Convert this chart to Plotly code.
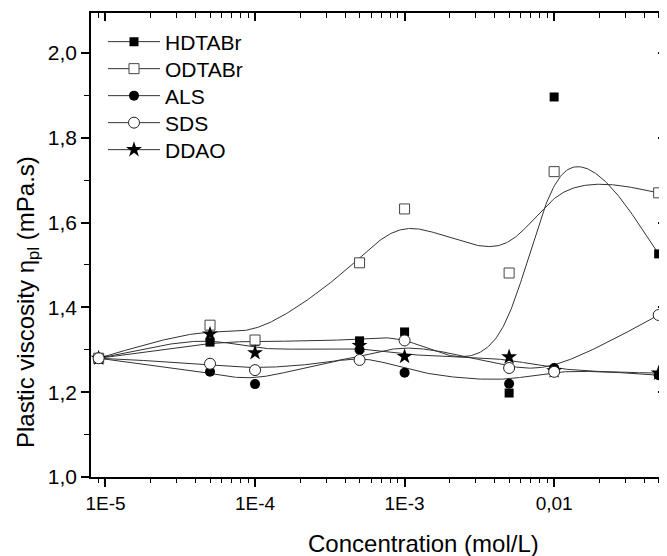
import numpy as np
import plotly.graph_objects as go

# ---- data ----
conc = [9e-6, 5e-5, 1e-4, 5e-4, 1e-3, 5e-3, 1e-2, 5e-2]
hdtabr = [1.28, 1.318, 1.32, 1.321, 1.342, 1.198, 1.896, 1.526]
odtabr = [1.28, 1.358, 1.323, 1.505, 1.632, 1.481, 1.72, 1.67]
als = [1.28, 1.248, 1.219, 1.30, 1.246, 1.22, 1.257, 1.24]
sds = [1.28, 1.267, 1.252, 1.276, 1.322, 1.257, 1.248, 1.382]
ddao = [1.28, 1.337, 1.293, 1.31, 1.284, 1.283, 1.25, 1.245]

series_names = ["HDTABr", "ODTABr", "ALS", "SDS", "DDAO"]
series_vals = [hdtabr, odtabr, als, sds, ddao]

x_tickvals = [1e-5, 1e-4, 1e-3, 1e-2]
x_ticktext = ["1E-5", "1E-4", "1E-3", "0,01"]
y_tickvals = [1.0, 1.2, 1.4, 1.6, 1.8, 2.0]
y_ticktext = ["1,0", "1,2", "1,4", "1,6", "1,8", "2,0"]
y_minor = [1.1, 1.3, 1.5, 1.7, 1.9]
x_minor = [9e-6] + [m * 10.0 ** d for d in range(-5, -1) for m in range(2, 10)]

FONT = "Liberation Sans, Arial, sans-serif"

# page geometry (the html body adds an 8px margin)
BODY = 8
PL, PR, PT, PB = 91, 666, 13, 477   # plot area in page pixels


def bspline(xs, ys, per_seg=60):
    """Uniform cubic B-spline, data points as control points (end points tripled), log-x space."""
    P = np.column_stack([np.log10(xs), ys])
    Q = np.vstack([P[0], P[0], P, P[-1], P[-1]])
    t = np.linspace(0, 1, per_seg, endpoint=False)
    b0 = (1 - t) ** 3 / 6
    b1 = (3 * t ** 3 - 6 * t ** 2 + 4) / 6
    b2 = (-3 * t ** 3 + 3 * t ** 2 + 3 * t + 1) / 6
    b3 = t ** 3 / 6
    pts = []
    for i in range(len(Q) - 3):
        seg = (np.outer(b0, Q[i]) + np.outer(b1, Q[i + 1]) +
               np.outer(b2, Q[i + 2]) + np.outer(b3, Q[i + 3]))
        pts.append(seg)
    pts.append(P[-1][None, :])
    C = np.vstack(pts)
    return 10 ** C[:, 0], C[:, 1]


markers = {
    "HDTABr": dict(symbol="square", size=9, color="black", line=dict(width=0)),
    "ODTABr": dict(symbol="square", size=10, color="white", line=dict(width=1, color="#444")),
    "ALS": dict(symbol="circle", size=10, color="black", line=dict(width=0)),
    "SDS": dict(symbol="circle", size=11, color="white", line=dict(width=1, color="#222")),
    "DDAO": dict(symbol="star", size=12, color="black", line=dict(width=0)),
}
legend_ids = {"HDTABr": "legend", "ODTABr": "legend2", "ALS": "legend3",
              "SDS": "legend4", "DDAO": "legend5"}
draw_order = ["HDTABr", "ODTABr", "ALS", "DDAO", "SDS"]
data = dict(zip(series_names, series_vals))

fig = go.Figure()

for name in series_names:
    cx, cy = bspline(conc, data[name])
    fig.add_trace(go.Scatter(x=cx, y=cy, mode="lines", line=dict(color="#333", width=1),
                             showlegend=False, hoverinfo="skip"))

for name in draw_order:
    xs, ys = [], []
    for c, v in zip(conc, data[name]):
        xs += [c, None]
        ys += [v, None]
    fig.add_trace(go.Scatter(x=xs, y=ys, mode="lines+markers", name=name,
                             legend=legend_ids[name],
                             line=dict(color="#333", width=1), marker=markers[name],
                             connectgaps=False))

fig.add_trace(go.Scatter(x=[None], y=[None], xaxis="x2", yaxis="y2", showlegend=False))

xr = [np.log10(8e-6), -1.252]
yr = [1.0, 2.094]

axis_common = dict(showline=True, linecolor="black", linewidth=1.5, showgrid=False,
                   zeroline=False, tickcolor="black", tickwidth=1.5)


def px_x(p):
    return (p - PL) / (PR - PL)


def px_y(p):
    return (PB - p) / (PB - PT)


legend_y = {"HDTABr": 42, "ODTABr": 69, "ALS": 96, "SDS": 123, "DDAO": 150}
legends = {}
for name in series_names:
    legends[legend_ids[name]] = dict(x=px_x(103), y=px_y(legend_y[name]), xanchor="left",
                                     yanchor="middle", bgcolor="rgba(0,0,0,0)",
                                     font=dict(size=21, family=FONT), itemwidth=52)

W, H = 667 - BODY, 556 - BODY
fig.update_layout(
    width=W, height=H,
    margin=dict(l=PL - BODY, r=BODY + W - PR, t=PT - BODY, b=BODY + H - PB),
    paper_bgcolor="white", plot_bgcolor="white",
    font=dict(family=FONT, color="black"),
    xaxis=dict(type="log", range=xr, ticks="outside", ticklen=8,
               tickvals=x_tickvals, ticktext=x_ticktext, tickfont=dict(size=19),
               minor=dict(tickvals=x_minor, ticks="outside", ticklen=4, tickwidth=1.2,
                          tickcolor="black"),
               **axis_common),
    xaxis2=dict(type="log", range=xr, overlaying="x", side="top", ticks="inside",
                ticklen=8, tickvals=x_tickvals, showticklabels=False,
                minor=dict(tickvals=x_minor, ticks="inside", ticklen=5, tickwidth=1.2,
                           tickcolor="black"),
                **axis_common),
    yaxis=dict(range=yr, ticks="outside", ticklen=8, tickvals=y_tickvals,
               ticktext=y_ticktext, tickfont=dict(size=21),
               minor=dict(tickvals=y_minor, ticks="outside", ticklen=5, tickwidth=1.2,
                          tickcolor="black"),
               **axis_common),
    yaxis2=dict(range=yr, overlaying="y", side="right", ticks="inside", ticklen=8,
                tickvals=y_tickvals, showticklabels=False,
                minor=dict(tickvals=y_minor, ticks="inside", ticklen=5, tickwidth=1.2,
                           tickcolor="black"),
                **axis_common),
    showlegend=True,
    annotations=[
        dict(text="Plastic viscosity η<sub>pl</sub> (mPa.s)", textangle=-90,
             xref="paper", yref="paper", x=px_x(27), y=px_y(302),
             xanchor="center", yanchor="middle", showarrow=False,
             font=dict(size=24, family=FONT)),
        dict(text="Concentration (mol/L)", xref="paper", yref="paper",
             x=px_x(423), y=px_y(543), xanchor="center", yanchor="middle",
             showarrow=False, font=dict(size=24, family=FONT)),
    ],
    **legends,
)

fig.write_html("out.html")
